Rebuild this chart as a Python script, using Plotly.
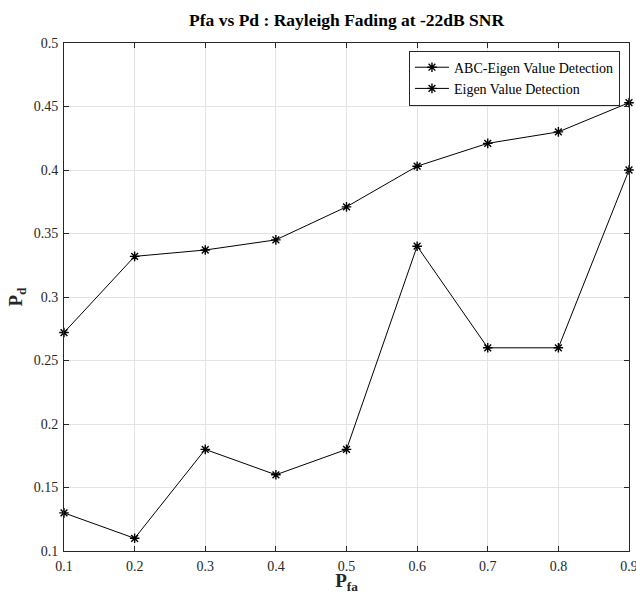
import plotly.graph_objects as go

pfa = [0.1, 0.2, 0.3, 0.4, 0.5, 0.6, 0.7, 0.8, 0.9]
pd_abc = [0.272, 0.332, 0.337, 0.345, 0.371, 0.403, 0.421, 0.430, 0.453]
pd_eig = [0.130, 0.110, 0.180, 0.160, 0.180, 0.340, 0.260, 0.260, 0.400]
xticks = [0.1, 0.2, 0.3, 0.4, 0.5, 0.6, 0.7, 0.8, 0.9]
yticks = [0.1, 0.15, 0.2, 0.25, 0.3, 0.35, 0.4, 0.45, 0.5]

FONT = "Liberation Serif, Times New Roman, serif"

fig = go.Figure()
for name, y in [("ABC-Eigen Value Detection", pd_abc), ("Eigen Value Detection", pd_eig)]:
    fig.add_trace(go.Scatter(
        x=pfa, y=y, name=name, mode="lines+markers",
        line=dict(color="black", width=1),
        marker=dict(symbol="asterisk-open", size=8, color="black",
                    line=dict(color="black", width=1.4)),
        cliponaxis=False,
    ))

axis_common = dict(
    showline=True, linecolor="#262626", linewidth=1, mirror="ticks",
    ticks="inside", ticklen=5, tickcolor="#262626", tickwidth=1,
    showgrid=True, gridcolor="#e3e3e3", gridwidth=1, zeroline=False,
    automargin=False, ticklabeloverflow="allow",
    tickfont=dict(family=FONT, size=14, color="#262626"),
)

fig.update_layout(
    width=636, height=594,
    margin=dict(l=64, r=7, t=43, b=43, autoexpand=False),
    paper_bgcolor="white", plot_bgcolor="white",
    title=dict(text="<b>Pfa vs Pd : Rayleigh Fading at -22dB SNR</b>",
               x=0.545, xanchor="center", y=0.966, yanchor="middle",
               font=dict(family=FONT, size=17.5, color="black")),
    xaxis=dict(range=[0.1, 0.9], tickvals=xticks,
               ticktext=[f"{v:g}" for v in xticks],
               ticklabelstandoff=2,
               title=dict(text="<b>P<sub>fa</sub></b>", standoff=7,
                          font=dict(family=FONT, size=19, color="#262626")),
               **axis_common),
    yaxis=dict(range=[0.1, 0.5], tickvals=yticks,
               ticktext=[f"{v:g}" for v in yticks],
               ticklabelstandoff=2,
               title=dict(text="<b>P<sub>d</sub></b>", standoff=6,
                          font=dict(family=FONT, size=19, color="#262626")),
               **axis_common),
    legend=dict(x=0.984, xanchor="right", y=0.985, yanchor="top",
                bgcolor="white", bordercolor="#262626", borderwidth=1,
                font=dict(family=FONT, size=14, color="black"),
                tracegroupgap=0, itemwidth=34),
    showlegend=True,
)

fig.write_html("out.html", config={"displayModeBar": False},
               post_script="document.body.style.margin='0';document.body.style.overflow='hidden';")
